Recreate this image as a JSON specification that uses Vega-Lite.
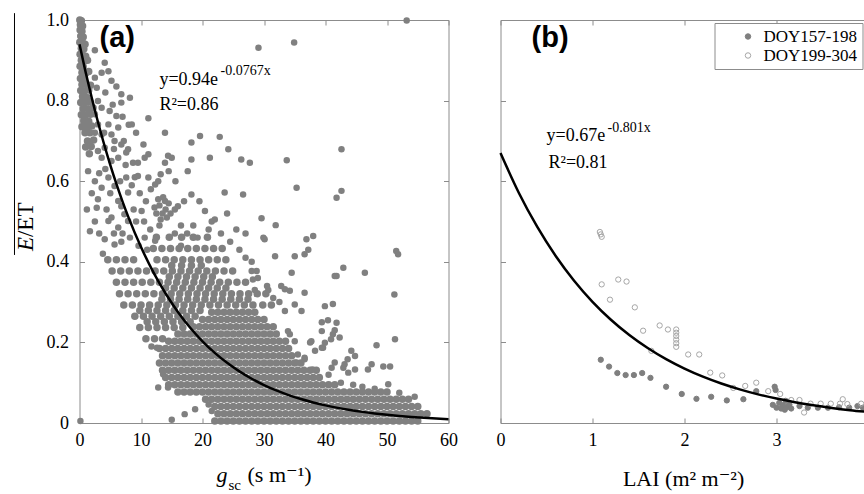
{
"$schema":"https://vega.github.io/schema/vega-lite/v6.json",
"padding":{"left":12.5,"top":10,"right":0,"bottom":0},
"bounds":"flush",
"spacing":52,
"config":{
"view":{"stroke":"#8c8c8c","strokeWidth":1},
"axis":{"domain":false,"grid":false,"tickSize":-5,"tickColor":"#8c8c8c","labelFont":"Liberation Serif, DejaVu Serif, serif","labelFontSize":18,"labelColor":"#000000","labelFlush":false,"labelOverlap":false},
"axisBottom":{"labelPadding":13},
"axisLeft":{"labelPadding":16},
"text":{"font":"Liberation Serif, DejaVu Serif, serif","color":"#000000"},
"legend":{"labelFont":"Liberation Serif, DejaVu Serif, serif","labelFontSize":17,"labelColor":"#000000","strokeColor":"#8c8c8c","fillColor":"#ffffff","padding":5,"symbolOffset":20,"labelOffset":7,"rowPadding":1,"symbolSize":30,"symbolStrokeWidth":1,"symbolType":"circle"}
},
"datasets":{
"one":[{}],
"a":[
{"x":2.5,"y":0.925},{"x":4.1,"y":0.894},{"x":4.7,"y":0.873},{"x":3.6,"y":0.869},{"x":2.5,"y":0.857},{"x":5.2,"y":0.849},{"x":6.0,"y":0.835},{"x":6.8,"y":0.816},{"x":8.2,"y":0.807},{"x":6.8,"y":0.795},{"x":11.2,"y":0.756},{"x":8.5,"y":0.741},{"x":6.0,"y":0.762},{"x":4.9,"y":0.774},{"x":6.3,"y":0.733},{"x":4.7,"y":0.741},{"x":2.8,"y":0.832},{"x":3.0,"y":0.799},{"x":3.6,"y":0.782},{"x":2.5,"y":0.766},{"x":3.0,"y":0.741},{"x":2.5,"y":0.72},{"x":3.6,"y":0.716},{"x":5.2,"y":0.716},{"x":5.7,"y":0.7},{"x":4.1,"y":0.683},{"x":3.0,"y":0.675},{"x":6.8,"y":0.691},{"x":7.9,"y":0.679},{"x":3.6,"y":0.658},{"x":5.2,"y":0.65},{"x":6.3,"y":0.658},{"x":7.6,"y":0.671},{"x":8.7,"y":0.646},{"x":9.5,"y":0.646},{"x":10.4,"y":0.691},{"x":13.9,"y":0.72},{"x":18.2,"y":0.696},{"x":19.6,"y":0.712},{"x":22.8,"y":0.71},{"x":24.2,"y":0.679},{"x":21.2,"y":0.658},{"x":18.2,"y":0.654},{"x":14.4,"y":0.663},{"x":13.9,"y":0.646},{"x":15.0,"y":0.658},{"x":11.2,"y":0.667},{"x":10.6,"y":0.658},{"x":26.3,"y":0.654},{"x":27.7,"y":0.646},{"x":33.7,"y":0.652},{"x":42.6,"y":0.679},{"x":29.1,"y":0.931},{"x":34.9,"y":0.944},{"x":53.2,"y":0.999},{"x":11.2,"y":0.609},{"x":9.5,"y":0.613},{"x":14.5,"y":0.625},{"x":13.2,"y":0.617},{"x":17.6,"y":0.625},{"x":1.4,"y":0.625},{"x":2.5,"y":0.6},{"x":4.7,"y":0.609},{"x":3.6,"y":0.584},{"x":5.7,"y":0.588},{"x":7.6,"y":0.609},{"x":7.9,"y":0.572},{"x":12.3,"y":0.592},{"x":18.2,"y":0.567},{"x":23.6,"y":0.572},{"x":26.6,"y":0.567},{"x":35.3,"y":0.584},{"x":41.8,"y":0.559},{"x":42.6,"y":0.576},{"x":20.4,"y":0.526},{"x":22.0,"y":0.505},{"x":15.5,"y":0.53},{"x":16.0,"y":0.538},{"x":13.9,"y":0.551},{"x":10.1,"y":0.526},{"x":6.8,"y":0.538},{"x":2.8,"y":0.534},{"x":3.0,"y":0.555},{"x":6.3,"y":0.551},{"x":5.2,"y":0.51},{"x":4.7,"y":0.501},{"x":6.3,"y":0.485},{"x":7.9,"y":0.501},{"x":7.3,"y":0.518},{"x":1.7,"y":0.476},{"x":4.1,"y":0.456},{"x":5.7,"y":0.443},{"x":10.6,"y":0.46},{"x":12.3,"y":0.452},{"x":29.6,"y":0.508},{"x":29.9,"y":0.46},{"x":31.9,"y":0.491},{"x":36.9,"y":0.456},{"x":38.0,"y":0.464},{"x":51.5,"y":0.427},
{"x":3.2,"y":0.62},{"x":4.2,"y":0.63},{"x":5.0,"y":0.57},{"x":6.6,"y":0.6},{"x":8.5,"y":0.59},{"x":9.8,"y":0.57},{"x":10.8,"y":0.55},{"x":11.6,"y":0.58},{"x":8.8,"y":0.53},{"x":9.2,"y":0.5},{"x":10.5,"y":0.5},{"x":11.5,"y":0.48},{"x":8.2,"y":0.46},{"x":6.8,"y":0.45},{"x":3.2,"y":0.47},{"x":2.5,"y":0.5},{"x":4.4,"y":0.53},{"x":5.6,"y":0.47},{"x":7.0,"y":0.47},{"x":9.6,"y":0.44},{"x":11.0,"y":0.43},{"x":4.0,"y":0.72},{"x":5.6,"y":0.68},{"x":7.2,"y":0.7},{"x":8.0,"y":0.74},{"x":9.2,"y":0.72},{"x":7.0,"y":0.76},{"x":5.4,"y":0.79},{"x":4.2,"y":0.82},{"x":7.5,"y":0.64},{"x":9.0,"y":0.61},{"x":12.8,"y":0.6},{"x":15.6,"y":0.6},{"x":17.0,"y":0.55},{"x":19.5,"y":0.55},{"x":21.5,"y":0.5},{"x":24.0,"y":0.52},{"x":25.5,"y":0.48},{"x":27.0,"y":0.47},{"x":16.5,"y":0.44},{"x":2.0,"y":0.57},{"x":1.2,"y":0.53},{"x":3.8,"y":0.42},
{"x":12.5,"y":0.52},{"x":13.0,"y":0.54},{"x":13.5,"y":0.52},{"x":14.0,"y":0.53},{"x":13.2,"y":0.505},{"x":14.2,"y":0.51},{"x":12.8,"y":0.555},{"x":13.6,"y":0.56},{"x":14.5,"y":0.545},{"x":12.2,"y":0.535},{"x":13.0,"y":0.49},{"x":14.8,"y":0.52},
{"x":15.5,"y":0.47},{"x":16.5,"y":0.49},{"x":17.5,"y":0.47},{"x":18.5,"y":0.49},{"x":19.2,"y":0.46},{"x":21.0,"y":0.48},{"x":23.0,"y":0.47},{"x":24.5,"y":0.45},{"x":26.0,"y":0.43},{"x":27.0,"y":0.41},{"x":28.0,"y":0.4},{"x":29.0,"y":0.36},{"x":30.5,"y":0.34},{"x":31.5,"y":0.31},{"x":32.5,"y":0.3},
{"x":0.15,"y":0.005},{"x":15.0,"y":0.008},{"x":17.1,"y":0.022},{"x":18.8,"y":0.034},{"x":21.5,"y":0.03},{"x":21.0,"y":0.046},{"x":12.8,"y":0.088},{"x":14.4,"y":0.088},{"x":13.6,"y":0.121},{"x":12.6,"y":0.187},{"x":11.7,"y":0.19},
{"x":30.1,"y":0.456},{"x":31.8,"y":0.414},{"x":35.0,"y":0.414},{"x":37.2,"y":0.43},{"x":36.6,"y":0.419},{"x":34.5,"y":0.373},{"x":28.0,"y":0.377},{"x":28.8,"y":0.377},{"x":28.2,"y":0.356},{"x":28.5,"y":0.33},{"x":30.7,"y":0.33},{"x":32.8,"y":0.34},{"x":34.2,"y":0.328},{"x":36.6,"y":0.323},{"x":33.4,"y":0.332},{"x":35.0,"y":0.294},{"x":36.1,"y":0.278},{"x":33.4,"y":0.278},{"x":33.9,"y":0.228},{"x":35.0,"y":0.203},{"x":34.2,"y":0.22},{"x":37.5,"y":0.2},{"x":36.6,"y":0.162},{"x":38.3,"y":0.179},{"x":39.4,"y":0.187},{"x":39.9,"y":0.199},{"x":40.9,"y":0.208},{"x":41.2,"y":0.22},{"x":41.5,"y":0.23},{"x":39.4,"y":0.25},{"x":40.4,"y":0.255},{"x":41.8,"y":0.249},{"x":39.9,"y":0.29},{"x":41.2,"y":0.295},{"x":41.8,"y":0.365},{"x":42.9,"y":0.385},{"x":46.4,"y":0.373},{"x":51.8,"y":0.419},{"x":51.2,"y":0.319},{"x":51.3,"y":0.208},{"x":48.3,"y":0.193},{"x":44.2,"y":0.179},{"x":44.8,"y":0.166},{"x":41.5,"y":0.15},{"x":42.9,"y":0.137},{"x":41.0,"y":0.137},{"x":43.7,"y":0.125},{"x":46.9,"y":0.133},{"x":47.5,"y":0.146},{"x":49.4,"y":0.14},{"x":50.5,"y":0.14},{"x":50.2,"y":0.096},{"x":37.9,"y":0.133},{"x":35.3,"y":0.15},{"x":42.3,"y":0.212},{"x":37.7,"y":0.203},{"x":39.6,"y":0.187},{"x":43.1,"y":0.146},{"x":43.6,"y":0.158},{"x":44.8,"y":0.133},{"x":39.4,"y":0.228},{"x":41.5,"y":0.365},{"x":36.6,"y":0.158},{"x":35.5,"y":0.17},{"x":44.5,"y":0.095},{"x":46,"y":0.09},{"x":48,"y":0.085},{"x":52,"y":0.075},{"x":54.5,"y":0.065},{"x":40.5,"y":0.12},{"x":42.5,"y":0.1}
],
"aCore":[
{"x":0.05,"y":1.0},{"x":0.3,"y":0.998},{"x":0.15,"y":0.988},{"x":0.5,"y":0.985},{"x":0.1,"y":0.975},{"x":0.4,"y":0.972},{"x":0.2,"y":0.96},{"x":0.6,"y":0.958},{"x":0.05,"y":0.945},{"x":0.45,"y":0.945},{"x":0.9,"y":0.94},{"x":0.3,"y":0.93},{"x":0.7,"y":0.928},{"x":0.1,"y":0.915},{"x":0.5,"y":0.913},{"x":1.0,"y":0.91},{"x":0.3,"y":0.9},{"x":0.8,"y":0.898},{"x":1.3,"y":0.9},{"x":0.1,"y":0.885},{"x":0.6,"y":0.884},{"x":0.4,"y":0.87},{"x":1.0,"y":0.868},{"x":1.5,"y":0.872},{"x":0.15,"y":0.855},{"x":0.7,"y":0.853},{"x":0.4,"y":0.84},{"x":1.1,"y":0.84},{"x":1.8,"y":0.838},{"x":0.2,"y":0.825},{"x":0.8,"y":0.824},{"x":1.5,"y":0.826},{"x":0.5,"y":0.81},{"x":1.2,"y":0.808},{"x":0.2,"y":0.795},{"x":0.9,"y":0.795},{"x":1.7,"y":0.797},{"x":0.6,"y":0.78},{"x":1.4,"y":0.78},{"x":2.2,"y":0.782},{"x":0.3,"y":0.765},{"x":1.0,"y":0.764},{"x":1.8,"y":0.766},{"x":0.7,"y":0.75},{"x":1.5,"y":0.749},{"x":0.4,"y":0.735},{"x":1.2,"y":0.734},{"x":2.0,"y":0.737},{"x":0.9,"y":0.72},{"x":1.7,"y":0.72},{"x":1.3,"y":0.7},{"x":2.3,"y":0.702},{"x":1.0,"y":0.685},{"x":1.9,"y":0.686},{"x":1.6,"y":0.668},
{"x":10.8,"y":0.209},{"x":12.2,"y":0.209},{"x":13.5,"y":0.209},
{"x":9.8,"y":0.237},{"x":11.2,"y":0.237},{"x":12.6,"y":0.237},{"x":14.0,"y":0.237},{"x":15.4,"y":0.237},{"x":16.8,"y":0.237},
{"x":11.0,"y":0.251},{"x":12.4,"y":0.251},{"x":13.8,"y":0.251},{"x":15.2,"y":0.251},{"x":16.6,"y":0.251},{"x":18.0,"y":0.251},
{"x":9.0,"y":0.265},{"x":10.4,"y":0.265},{"x":11.8,"y":0.265},{"x":13.2,"y":0.265},{"x":14.6,"y":0.265},{"x":16.0,"y":0.265},{"x":17.4,"y":0.265},{"x":18.8,"y":0.265},
{"x":9.8,"y":0.279},{"x":11.2,"y":0.279},{"x":12.6,"y":0.279},{"x":14.0,"y":0.279},{"x":15.4,"y":0.279},{"x":16.8,"y":0.279},{"x":18.2,"y":0.279},{"x":19.6,"y":0.279},
{"x":7.2,"y":0.293},{"x":8.6,"y":0.293},{"x":10.0,"y":0.293},{"x":11.4,"y":0.293},{"x":12.8,"y":0.293},{"x":14.2,"y":0.293},{"x":15.6,"y":0.293},{"x":17.0,"y":0.293},{"x":18.4,"y":0.293},{"x":19.8,"y":0.293},{"x":21.2,"y":0.293},{"x":22.6,"y":0.293},{"x":24.0,"y":0.293},{"x":25.4,"y":0.293},{"x":26.8,"y":0.293},{"x":28.2,"y":0.293},{"x":29.8,"y":0.293},{"x":31.2,"y":0.293},
{"x":13.4,"y":0.307},{"x":14.8,"y":0.307},{"x":16.2,"y":0.307},{"x":17.6,"y":0.307},{"x":19.0,"y":0.307},{"x":20.4,"y":0.307},{"x":21.8,"y":0.307},{"x":23.2,"y":0.307},{"x":24.6,"y":0.307},{"x":26.0,"y":0.307},{"x":27.4,"y":0.307},
{"x":6.5,"y":0.321},{"x":7.9,"y":0.321},{"x":9.3,"y":0.321},{"x":10.7,"y":0.321},{"x":12.1,"y":0.321},{"x":13.5,"y":0.321},{"x":14.9,"y":0.321},{"x":16.3,"y":0.321},{"x":17.7,"y":0.321},{"x":19.1,"y":0.321},{"x":20.5,"y":0.321},{"x":21.9,"y":0.321},{"x":23.3,"y":0.321},{"x":24.7,"y":0.321},{"x":26.1,"y":0.321},{"x":27.5,"y":0.321},{"x":28.9,"y":0.321},{"x":30.3,"y":0.321},
{"x":14.0,"y":0.335},{"x":15.4,"y":0.335},{"x":16.8,"y":0.335},{"x":18.2,"y":0.335},{"x":19.6,"y":0.335},{"x":21.0,"y":0.335},{"x":22.4,"y":0.335},{"x":23.8,"y":0.335},
{"x":6.0,"y":0.349},{"x":7.4,"y":0.349},{"x":8.8,"y":0.349},{"x":10.2,"y":0.349},{"x":11.6,"y":0.349},{"x":13.0,"y":0.349},{"x":14.4,"y":0.349},{"x":15.8,"y":0.349},{"x":17.2,"y":0.349},{"x":18.6,"y":0.349},{"x":20.0,"y":0.349},{"x":21.4,"y":0.349},{"x":22.8,"y":0.349},{"x":24.2,"y":0.349},{"x":25.6,"y":0.349},{"x":27.0,"y":0.349},
{"x":14.6,"y":0.363},{"x":16.0,"y":0.363},{"x":17.4,"y":0.363},{"x":18.8,"y":0.363},{"x":20.2,"y":0.363},{"x":21.6,"y":0.363},
{"x":5.3,"y":0.377},{"x":6.7,"y":0.377},{"x":8.1,"y":0.377},{"x":9.5,"y":0.377},{"x":10.9,"y":0.377},{"x":12.3,"y":0.377},{"x":13.7,"y":0.377},{"x":15.1,"y":0.377},{"x":16.5,"y":0.377},{"x":17.9,"y":0.377},{"x":19.3,"y":0.377},{"x":20.7,"y":0.377},{"x":22.1,"y":0.377},{"x":23.5,"y":0.377},{"x":24.9,"y":0.377},
{"x":15.0,"y":0.391},{"x":16.6,"y":0.391},{"x":18.2,"y":0.391},{"x":19.8,"y":0.391},
{"x":4.6,"y":0.405},{"x":6.0,"y":0.405},{"x":7.4,"y":0.405},{"x":8.8,"y":0.405},{"x":12.6,"y":0.405},{"x":14.0,"y":0.405},{"x":15.4,"y":0.405},{"x":16.8,"y":0.405},{"x":18.2,"y":0.405},{"x":19.6,"y":0.405},{"x":21.0,"y":0.405},{"x":22.4,"y":0.405},{"x":23.8,"y":0.405},
{"x":12.0,"y":0.433},{"x":13.4,"y":0.433},{"x":14.8,"y":0.433},{"x":16.2,"y":0.433},{"x":17.6,"y":0.433},{"x":19.0,"y":0.433},{"x":20.4,"y":0.433},{"x":21.8,"y":0.433},{"x":23.2,"y":0.433},
{"x":12.5,"y":0.461},{"x":14.6,"y":0.461},{"x":16.6,"y":0.461},{"x":18.5,"y":0.461},{"x":20.8,"y":0.461},
{"x":22,"y":0.005},{"x":23,"y":0.005},{"x":24,"y":0.005},{"x":25,"y":0.005},{"x":26,"y":0.005},{"x":27,"y":0.005},{"x":28,"y":0.005},{"x":29,"y":0.005},{"x":30,"y":0.005},{"x":31,"y":0.005},{"x":32,"y":0.005},{"x":33,"y":0.005},{"x":34,"y":0.005},{"x":35,"y":0.005},{"x":36,"y":0.005},{"x":37,"y":0.005},{"x":38,"y":0.005},{"x":39,"y":0.005},{"x":40,"y":0.005},{"x":41,"y":0.005},{"x":42,"y":0.005},{"x":43,"y":0.005},{"x":44,"y":0.005},{"x":45,"y":0.005},{"x":46,"y":0.005},{"x":47,"y":0.005},{"x":48,"y":0.005},{"x":49,"y":0.005},{"x":50,"y":0.005},{"x":51,"y":0.005},{"x":52,"y":0.005},{"x":53,"y":0.005},{"x":54,"y":0.005},{"x":55,"y":0.005},
{"x":22.5,"y":0.023},{"x":23.5,"y":0.023},{"x":24.5,"y":0.023},{"x":25.5,"y":0.023},{"x":26.5,"y":0.023},{"x":27.5,"y":0.023},{"x":28.5,"y":0.023},{"x":29.5,"y":0.023},{"x":30.5,"y":0.023},{"x":31.5,"y":0.023},{"x":32.5,"y":0.023},{"x":33.5,"y":0.023},{"x":34.5,"y":0.023},{"x":35.5,"y":0.023},{"x":36.5,"y":0.023},{"x":37.5,"y":0.023},{"x":38.5,"y":0.023},{"x":39.5,"y":0.023},{"x":40.5,"y":0.023},{"x":41.5,"y":0.023},{"x":42.5,"y":0.023},{"x":43.5,"y":0.023},{"x":44.5,"y":0.023},{"x":45.5,"y":0.023},{"x":46.5,"y":0.023},{"x":47.5,"y":0.023},{"x":48.5,"y":0.023},{"x":49.5,"y":0.023},{"x":50.5,"y":0.023},{"x":51.5,"y":0.023},{"x":52.5,"y":0.023},{"x":53.5,"y":0.023},{"x":54.5,"y":0.023},{"x":55.5,"y":0.023},{"x":56.5,"y":0.023},
{"x":22,"y":0.041},{"x":23,"y":0.041},{"x":24,"y":0.041},{"x":25,"y":0.041},{"x":26,"y":0.041},{"x":27,"y":0.041},{"x":28,"y":0.041},{"x":29,"y":0.041},{"x":30,"y":0.041},{"x":31,"y":0.041},{"x":32,"y":0.041},{"x":33,"y":0.041},{"x":34,"y":0.041},{"x":35,"y":0.041},{"x":36,"y":0.041},{"x":37,"y":0.041},{"x":38,"y":0.041},{"x":39,"y":0.041},{"x":40,"y":0.041},{"x":41,"y":0.041},{"x":42,"y":0.041},{"x":43,"y":0.041},{"x":44,"y":0.041},{"x":45,"y":0.041},{"x":46,"y":0.041},{"x":47,"y":0.041},{"x":48,"y":0.041},{"x":49,"y":0.041},{"x":50,"y":0.041},{"x":51,"y":0.041},{"x":52,"y":0.041},{"x":53,"y":0.041},{"x":54,"y":0.041},{"x":55,"y":0.041},
{"x":20.5,"y":0.059},{"x":21.5,"y":0.059},{"x":22.5,"y":0.059},{"x":23.5,"y":0.059},{"x":24.5,"y":0.059},{"x":25.5,"y":0.059},{"x":26.5,"y":0.059},{"x":27.5,"y":0.059},{"x":28.5,"y":0.059},{"x":29.5,"y":0.059},{"x":30.5,"y":0.059},{"x":31.5,"y":0.059},{"x":32.5,"y":0.059},{"x":33.5,"y":0.059},{"x":34.5,"y":0.059},{"x":35.5,"y":0.059},{"x":36.5,"y":0.059},{"x":37.5,"y":0.059},{"x":38.5,"y":0.059},{"x":39.5,"y":0.059},{"x":40.5,"y":0.059},{"x":41.5,"y":0.059},{"x":42.5,"y":0.059},{"x":43.5,"y":0.059},{"x":44.5,"y":0.059},{"x":45.5,"y":0.059},{"x":46.5,"y":0.059},{"x":47.5,"y":0.059},{"x":48.5,"y":0.059},{"x":49.5,"y":0.059},{"x":50.5,"y":0.059},{"x":51.5,"y":0.059},{"x":52.5,"y":0.059},{"x":53.5,"y":0.059},
{"x":16,"y":0.077},{"x":17,"y":0.077},{"x":18,"y":0.077},{"x":19,"y":0.077},{"x":20,"y":0.077},{"x":21,"y":0.077},{"x":22,"y":0.077},{"x":23,"y":0.077},{"x":24,"y":0.077},{"x":25,"y":0.077},{"x":26,"y":0.077},{"x":27,"y":0.077},{"x":28,"y":0.077},{"x":29,"y":0.077},{"x":30,"y":0.077},{"x":31,"y":0.077},{"x":32,"y":0.077},{"x":33,"y":0.077},{"x":34,"y":0.077},{"x":35,"y":0.077},{"x":36,"y":0.077},{"x":37,"y":0.077},{"x":38,"y":0.077},{"x":39,"y":0.077},{"x":40,"y":0.077},{"x":41,"y":0.077},{"x":42,"y":0.077},{"x":43,"y":0.077},{"x":44,"y":0.077},{"x":45,"y":0.077},{"x":46,"y":0.077},{"x":47,"y":0.077},{"x":48,"y":0.077},{"x":49,"y":0.077},{"x":50,"y":0.077},
{"x":14.5,"y":0.095},{"x":15.5,"y":0.095},{"x":16.5,"y":0.095},{"x":17.5,"y":0.095},{"x":18.5,"y":0.095},{"x":19.5,"y":0.095},{"x":20.5,"y":0.095},{"x":21.5,"y":0.095},{"x":22.5,"y":0.095},{"x":23.5,"y":0.095},{"x":24.5,"y":0.095},{"x":25.5,"y":0.095},{"x":26.5,"y":0.095},{"x":27.5,"y":0.095},{"x":28.5,"y":0.095},{"x":29.5,"y":0.095},{"x":30.5,"y":0.095},{"x":31.5,"y":0.095},{"x":32.5,"y":0.095},{"x":33.5,"y":0.095},{"x":34.5,"y":0.095},{"x":35.5,"y":0.095},{"x":36.5,"y":0.095},{"x":37.5,"y":0.095},{"x":38.5,"y":0.095},{"x":39.5,"y":0.095},{"x":40.5,"y":0.095},{"x":41.5,"y":0.095},
{"x":14,"y":0.113},{"x":15,"y":0.113},{"x":16,"y":0.113},{"x":17,"y":0.113},{"x":18,"y":0.113},{"x":19,"y":0.113},{"x":20,"y":0.113},{"x":21,"y":0.113},{"x":22,"y":0.113},{"x":23,"y":0.113},{"x":24,"y":0.113},{"x":25,"y":0.113},{"x":26,"y":0.113},{"x":27,"y":0.113},{"x":28,"y":0.113},{"x":29,"y":0.113},{"x":30,"y":0.113},{"x":31,"y":0.113},{"x":32,"y":0.113},{"x":33,"y":0.113},{"x":34,"y":0.113},{"x":35,"y":0.113},{"x":36,"y":0.113},{"x":37,"y":0.113},{"x":38,"y":0.113},{"x":39,"y":0.113},
{"x":13.5,"y":0.131},{"x":14.5,"y":0.131},{"x":15.5,"y":0.131},{"x":16.5,"y":0.131},{"x":17.5,"y":0.131},{"x":18.5,"y":0.131},{"x":19.5,"y":0.131},{"x":20.5,"y":0.131},{"x":21.5,"y":0.131},{"x":22.5,"y":0.131},{"x":23.5,"y":0.131},{"x":24.5,"y":0.131},{"x":25.5,"y":0.131},{"x":26.5,"y":0.131},{"x":27.5,"y":0.131},{"x":28.5,"y":0.131},{"x":29.5,"y":0.131},{"x":30.5,"y":0.131},{"x":31.5,"y":0.131},{"x":32.5,"y":0.131},{"x":33.5,"y":0.131},{"x":34.5,"y":0.131},{"x":35.5,"y":0.131},{"x":36.5,"y":0.131},{"x":37.5,"y":0.131},{"x":38.5,"y":0.131},
{"x":13,"y":0.149},{"x":14,"y":0.149},{"x":15,"y":0.149},{"x":16,"y":0.149},{"x":17,"y":0.149},{"x":18,"y":0.149},{"x":19,"y":0.149},{"x":20,"y":0.149},{"x":21,"y":0.149},{"x":22,"y":0.149},{"x":23,"y":0.149},{"x":24,"y":0.149},{"x":25,"y":0.149},{"x":26,"y":0.149},{"x":27,"y":0.149},{"x":28,"y":0.149},{"x":29,"y":0.149},{"x":30,"y":0.149},{"x":31,"y":0.149},{"x":32,"y":0.149},{"x":33,"y":0.149},{"x":34,"y":0.149},{"x":35,"y":0.149},{"x":36,"y":0.149},
{"x":13.5,"y":0.167},{"x":14.5,"y":0.167},{"x":15.5,"y":0.167},{"x":16.5,"y":0.167},{"x":17.5,"y":0.167},{"x":18.5,"y":0.167},{"x":19.5,"y":0.167},{"x":20.5,"y":0.167},{"x":21.5,"y":0.167},{"x":22.5,"y":0.167},{"x":23.5,"y":0.167},{"x":24.5,"y":0.167},{"x":25.5,"y":0.167},{"x":26.5,"y":0.167},{"x":27.5,"y":0.167},{"x":28.5,"y":0.167},{"x":29.5,"y":0.167},{"x":30.5,"y":0.167},{"x":31.5,"y":0.167},{"x":32.5,"y":0.167},{"x":33.5,"y":0.167},{"x":34.5,"y":0.167},
{"x":13,"y":0.185},{"x":14,"y":0.185},{"x":15,"y":0.185},{"x":16,"y":0.185},{"x":17,"y":0.185},{"x":18,"y":0.185},{"x":19,"y":0.185},{"x":20,"y":0.185},{"x":21,"y":0.185},{"x":22,"y":0.185},{"x":23,"y":0.185},{"x":24,"y":0.185},{"x":25,"y":0.185},{"x":26,"y":0.185},{"x":27,"y":0.185},{"x":28,"y":0.185},{"x":29,"y":0.185},{"x":30,"y":0.185},{"x":31,"y":0.185},{"x":32,"y":0.185},{"x":33,"y":0.185},{"x":34,"y":0.185},
{"x":14.5,"y":0.203},{"x":15.5,"y":0.203},{"x":16.5,"y":0.203},{"x":17.5,"y":0.203},{"x":18.5,"y":0.203},{"x":19.5,"y":0.203},{"x":20.5,"y":0.203},{"x":21.5,"y":0.203},{"x":22.5,"y":0.203},{"x":23.5,"y":0.203},{"x":24.5,"y":0.203},{"x":25.5,"y":0.203},{"x":26.5,"y":0.203},{"x":27.5,"y":0.203},{"x":28.5,"y":0.203},{"x":29.5,"y":0.203},{"x":30.5,"y":0.203},{"x":31.5,"y":0.203},{"x":32.5,"y":0.203},{"x":33.5,"y":0.203},
{"x":16,"y":0.221},{"x":17,"y":0.221},{"x":18,"y":0.221},{"x":19,"y":0.221},{"x":20,"y":0.221},{"x":21,"y":0.221},{"x":22,"y":0.221},{"x":23,"y":0.221},{"x":24,"y":0.221},{"x":25,"y":0.221},{"x":26,"y":0.221},{"x":27,"y":0.221},{"x":28,"y":0.221},{"x":29,"y":0.221},{"x":30,"y":0.221},{"x":31,"y":0.221},{"x":32,"y":0.221},
{"x":18.5,"y":0.239},{"x":19.5,"y":0.239},{"x":20.5,"y":0.239},{"x":21.5,"y":0.239},{"x":22.5,"y":0.239},{"x":23.5,"y":0.239},{"x":24.5,"y":0.239},{"x":25.5,"y":0.239},{"x":26.5,"y":0.239},{"x":27.5,"y":0.239},{"x":28.5,"y":0.239},{"x":29.5,"y":0.239},{"x":30.5,"y":0.239},{"x":31.5,"y":0.239},
{"x":20,"y":0.257},{"x":21,"y":0.257},{"x":22,"y":0.257},{"x":23,"y":0.257},{"x":24,"y":0.257},{"x":25,"y":0.257},{"x":26,"y":0.257},{"x":27,"y":0.257},{"x":28,"y":0.257},{"x":29,"y":0.257},{"x":30,"y":0.257},
{"x":21.5,"y":0.275},{"x":22.5,"y":0.275},{"x":23.5,"y":0.275},{"x":24.5,"y":0.275},{"x":25.5,"y":0.275},{"x":26.5,"y":0.275},{"x":27.5,"y":0.275},{"x":28.5,"y":0.275}
],
"aFit":[{"x":0,"y":0.94},{"x":1,"y":0.8706},{"x":2,"y":0.8063},{"x":3,"y":0.7468},{"x":4,"y":0.6917},{"x":5,"y":0.6406},{"x":6,"y":0.5933},{"x":7,"y":0.5495},{"x":8,"y":0.509},{"x":10,"y":0.4366},{"x":12,"y":0.3745},{"x":14,"y":0.3213},{"x":16,"y":0.2756},{"x":18,"y":0.2364},{"x":20,"y":0.2028},{"x":22,"y":0.1739},{"x":24,"y":0.1492},{"x":26,"y":0.128},{"x":28,"y":0.1098},{"x":30,"y":0.0942},{"x":32,"y":0.0808},{"x":34,"y":0.0693},{"x":36,"y":0.0594},{"x":38,"y":0.051},{"x":40,"y":0.0437},{"x":42,"y":0.0375},{"x":44,"y":0.0322},{"x":46,"y":0.0276},{"x":48,"y":0.0237},{"x":50,"y":0.0203},{"x":52,"y":0.0174},{"x":54,"y":0.0149},{"x":56,"y":0.0128},{"x":58,"y":0.011},{"x":60,"y":0.0094}],
"b":[
{"lai":1.09,"ratio":0.157,"period":"DOY157-198"},{"lai":1.18,"ratio":0.14,"period":"DOY157-198"},{"lai":1.27,"ratio":0.124,"period":"DOY157-198"},{"lai":1.36,"ratio":0.119,"period":"DOY157-198"},{"lai":1.45,"ratio":0.119,"period":"DOY157-198"},{"lai":1.54,"ratio":0.124,"period":"DOY157-198"},{"lai":1.63,"ratio":0.112,"period":"DOY157-198"},{"lai":1.8,"ratio":0.09,"period":"DOY157-198"},{"lai":1.97,"ratio":0.072,"period":"DOY157-198"},{"lai":2.13,"ratio":0.06,"period":"DOY157-198"},{"lai":2.29,"ratio":0.065,"period":"DOY157-198"},{"lai":2.46,"ratio":0.056,"period":"DOY157-198"},{"lai":2.64,"ratio":0.059,"period":"DOY157-198"},{"lai":2.78,"ratio":0.079,"period":"DOY157-198"},{"lai":2.98,"ratio":0.09,"period":"DOY157-198"},{"lai":2.99,"ratio":0.082,"period":"DOY157-198"},{"lai":2.96,"ratio":0.045,"period":"DOY157-198"},{"lai":3.0,"ratio":0.038,"period":"DOY157-198"},{"lai":3.03,"ratio":0.05,"period":"DOY157-198"},{"lai":3.05,"ratio":0.036,"period":"DOY157-198"},{"lai":3.07,"ratio":0.044,"period":"DOY157-198"},{"lai":3.09,"ratio":0.033,"period":"DOY157-198"},{"lai":3.1,"ratio":0.055,"period":"DOY157-198"},{"lai":3.12,"ratio":0.04,"period":"DOY157-198"},{"lai":3.14,"ratio":0.046,"period":"DOY157-198"},{"lai":3.16,"ratio":0.036,"period":"DOY157-198"},{"lai":3.25,"ratio":0.042,"period":"DOY157-198"},{"lai":3.34,"ratio":0.038,"period":"DOY157-198"},{"lai":3.45,"ratio":0.038,"period":"DOY157-198"},{"lai":3.56,"ratio":0.038,"period":"DOY157-198"},{"lai":3.68,"ratio":0.039,"period":"DOY157-198"},{"lai":3.79,"ratio":0.038,"period":"DOY157-198"},{"lai":3.88,"ratio":0.042,"period":"DOY157-198"},{"lai":3.94,"ratio":0.038,"period":"DOY157-198"},
{"lai":1.08,"ratio":0.474,"period":"DOY199-304"},{"lai":1.1,"ratio":0.462,"period":"DOY199-304"},{"lai":1.09,"ratio":0.468,"period":"DOY199-304"},{"lai":1.1,"ratio":0.344,"period":"DOY199-304"},{"lai":1.28,"ratio":0.356,"period":"DOY199-304"},{"lai":1.37,"ratio":0.351,"period":"DOY199-304"},{"lai":1.19,"ratio":0.306,"period":"DOY199-304"},{"lai":1.46,"ratio":0.287,"period":"DOY199-304"},{"lai":1.55,"ratio":0.229,"period":"DOY199-304"},{"lai":1.73,"ratio":0.242,"period":"DOY199-304"},{"lai":1.82,"ratio":0.232,"period":"DOY199-304"},{"lai":1.91,"ratio":0.232,"period":"DOY199-304"},{"lai":1.91,"ratio":0.224,"period":"DOY199-304"},{"lai":1.91,"ratio":0.216,"period":"DOY199-304"},{"lai":1.91,"ratio":0.207,"period":"DOY199-304"},{"lai":1.91,"ratio":0.198,"period":"DOY199-304"},{"lai":1.91,"ratio":0.189,"period":"DOY199-304"},{"lai":1.64,"ratio":0.179,"period":"DOY199-304"},{"lai":2.04,"ratio":0.17,"period":"DOY199-304"},{"lai":2.16,"ratio":0.17,"period":"DOY199-304"},{"lai":2.28,"ratio":0.125,"period":"DOY199-304"},{"lai":2.41,"ratio":0.118,"period":"DOY199-304"},{"lai":2.53,"ratio":0.087,"period":"DOY199-304"},{"lai":2.66,"ratio":0.092,"period":"DOY199-304"},{"lai":2.78,"ratio":0.1,"period":"DOY199-304"},{"lai":2.91,"ratio":0.079,"period":"DOY199-304"},{"lai":3.04,"ratio":0.072,"period":"DOY199-304"},{"lai":3.16,"ratio":0.057,"period":"DOY199-304"},{"lai":3.25,"ratio":0.057,"period":"DOY199-304"},{"lai":3.3,"ratio":0.026,"period":"DOY199-304"},{"lai":3.37,"ratio":0.048,"period":"DOY199-304"},{"lai":3.48,"ratio":0.048,"period":"DOY199-304"},{"lai":3.59,"ratio":0.048,"period":"DOY199-304"},{"lai":3.69,"ratio":0.048,"period":"DOY199-304"},{"lai":3.72,"ratio":0.059,"period":"DOY199-304"},{"lai":3.77,"ratio":0.047,"period":"DOY199-304"},{"lai":3.92,"ratio":0.048,"period":"DOY199-304"}
],
"bFit":[{"lai":0,"ratio":0.67},{"lai":0.2,"ratio":0.5708},{"lai":0.4,"ratio":0.4864},{"lai":0.6,"ratio":0.4144},{"lai":0.8,"ratio":0.3531},{"lai":1.0,"ratio":0.3008},{"lai":1.2,"ratio":0.2563},{"lai":1.4,"ratio":0.2184},{"lai":1.6,"ratio":0.1861},{"lai":1.8,"ratio":0.1585},{"lai":2.0,"ratio":0.135},{"lai":2.2,"ratio":0.115},{"lai":2.4,"ratio":0.098},{"lai":2.6,"ratio":0.0835},{"lai":2.8,"ratio":0.0711},{"lai":3.0,"ratio":0.0606},{"lai":3.2,"ratio":0.0516},{"lai":3.4,"ratio":0.044},{"lai":3.6,"ratio":0.0375},{"lai":3.8,"ratio":0.0319},{"lai":4.0,"ratio":0.0272}]
},
"hconcat":[
{
"width":369,"height":403,
"resolve":{"axis":{"x":"independent","y":"independent"}},
"layer":[
{"data":{"name":"aCore"},"mark":{"type":"circle","size":56,"color":"#808080","opacity":1},
"encoding":{
"x":{"field":"x","type":"quantitative","scale":{"domain":[0,60],"nice":false,"zero":false},"axis":{"orient":"bottom","values":[0,10,20,30,40,50,60],"title":null}},
"y":{"field":"y","type":"quantitative","scale":{"domain":[0,1],"nice":false},"axis":{"orient":"left","values":[0,0.2,0.4,0.6,0.8,1],"labelExpr":"datum.value == 0 ? '0' : format(datum.value, '.1f')","title":null}}}},
{"data":{"name":"a"},"mark":{"type":"circle","size":42,"color":"#808080","opacity":1},
"encoding":{
"x":{"field":"x","type":"quantitative","axis":null},
"y":{"field":"y","type":"quantitative","axis":null}}},
{"data":{"name":"aFit"},"mark":{"type":"line","color":"#000000","strokeWidth":2.5,"interpolate":"monotone"},
"encoding":{
"x":{"field":"x","type":"quantitative","axis":{"orient":"top","values":[0,10,20,30,40,50,60],"labels":false,"title":null}},
"y":{"field":"y","type":"quantitative","axis":{"orient":"right","values":[0,0.2,0.4,0.6,0.8,1],"labels":false,"title":null}}}},
{"data":{"name":"one"},"mark":{"type":"text","font":"Liberation Sans, Arial, sans-serif","fontWeight":"bold","fontSize":29,"align":"left","baseline":"alphabetic"},
"encoding":{"x":{"datum":3.25,"type":"quantitative","axis":null},"y":{"datum":0.933,"type":"quantitative","axis":null},"text":{"value":"(a)"}}},
{"data":{"name":"one"},"mark":{"type":"text","fontSize":18,"align":"left","baseline":"alphabetic"},
"encoding":{"x":{"datum":13.0,"type":"quantitative","axis":null},"y":{"datum":0.839,"type":"quantitative","axis":null},"text":{"value":"y=0.94e"}}},
{"data":{"name":"one"},"mark":{"type":"text","fontSize":14,"align":"left","baseline":"alphabetic"},
"encoding":{"x":{"datum":22.93,"type":"quantitative","axis":null},"y":{"datum":0.8635,"type":"quantitative","axis":null},"text":{"value":"-0.0767x"}}},
{"data":{"name":"one"},"mark":{"type":"text","fontSize":18,"align":"left","baseline":"alphabetic"},
"encoding":{"x":{"datum":13.0,"type":"quantitative","axis":null},"y":{"datum":0.777,"type":"quantitative","axis":null},"text":{"value":"R²=0.86"}}},
{"data":{"name":"one"},"mark":{"type":"text","fontSize":23,"fontStyle":"italic","angle":270,"align":"left","baseline":"alphabetic"},
"encoding":{"x":{"datum":-7.48,"type":"quantitative","axis":null},"y":{"datum":0.427,"type":"quantitative","axis":null},"text":{"value":"E"}}},
{"data":{"name":"one"},"mark":{"type":"text","fontSize":23,"angle":270,"align":"left","baseline":"alphabetic"},
"encoding":{"x":{"datum":-7.48,"type":"quantitative","axis":null},"y":{"datum":0.4615,"type":"quantitative","axis":null},"text":{"value":"/ET"}}},
{"data":{"name":"one"},"mark":{"type":"rule","color":"#000000","strokeWidth":1},
"encoding":{"x":{"datum":-10.57,"type":"quantitative","axis":null},"y":{"datum":0.417,"type":"quantitative","axis":null},"y2":{"datum":1.017}}},
{"data":{"name":"one"},"mark":{"type":"text","fontSize":22,"fontStyle":"italic","align":"left","baseline":"alphabetic"},
"encoding":{"x":{"datum":22.28,"type":"quantitative","axis":null},"y":{"datum":-0.147,"type":"quantitative","axis":null},"text":{"value":"g"}}},
{"data":{"name":"one"},"mark":{"type":"text","fontSize":15,"align":"left","baseline":"alphabetic"},
"encoding":{"x":{"datum":24.23,"type":"quantitative","axis":null},"y":{"datum":-0.166,"type":"quantitative","axis":null},"text":{"value":"sc"}}},
{"data":{"name":"one"},"mark":{"type":"text","fontSize":22,"align":"left","baseline":"alphabetic"},
"encoding":{"x":{"datum":27.32,"type":"quantitative","axis":null},"y":{"datum":-0.147,"type":"quantitative","axis":null},"text":{"value":"(s m⁻¹)"}}}
]
},
{
"width":368,"height":403,
"resolve":{"axis":{"x":"independent","y":"independent"}},
"layer":[
{"data":{"name":"b"},"mark":{"type":"point","shape":"circle","size":28,"strokeWidth":1,"opacity":1},
"encoding":{
"x":{"field":"lai","type":"quantitative","scale":{"domain":[0,4],"nice":false,"zero":false},"axis":{"orient":"bottom","values":[0,1,2,3,4],"title":null}},
"y":{"field":"ratio","type":"quantitative","scale":{"domain":[0,1],"nice":false},"axis":{"orient":"left","values":[0,0.2,0.4,0.6,0.8,1],"labels":false,"title":null}},
"fill":{"field":"period","type":"nominal","scale":{"domain":["DOY157-198","DOY199-304"],"range":["#7f7f7f","rgba(255,255,255,0)"]},"legend":{"title":null,"orient":"none","legendX":635,"legendY":3}},
"stroke":{"field":"period","type":"nominal","scale":{"domain":["DOY157-198","DOY199-304"],"range":["#7f7f7f","#a6a6a6"]},"legend":{"title":null,"orient":"none","legendX":635,"legendY":3}}}},
{"data":{"name":"bFit"},"mark":{"type":"line","color":"#000000","strokeWidth":2.5,"interpolate":"monotone"},
"encoding":{
"x":{"field":"lai","type":"quantitative","axis":{"orient":"top","values":[0,1,2,3,4],"labels":false,"title":null}},
"y":{"field":"ratio","type":"quantitative","axis":{"orient":"right","values":[0,0.2,0.4,0.6,0.8,1],"labels":false,"title":null}}}},
{"data":{"name":"one"},"mark":{"type":"text","font":"Liberation Sans, Arial, sans-serif","fontWeight":"bold","fontSize":29,"align":"left","baseline":"alphabetic"},
"encoding":{"x":{"datum":0.337,"type":"quantitative","axis":null},"y":{"datum":0.933,"type":"quantitative","axis":null},"text":{"value":"(b)"}}},
{"data":{"name":"one"},"mark":{"type":"text","fontSize":18,"align":"left","baseline":"alphabetic"},
"encoding":{"x":{"datum":0.5,"type":"quantitative","axis":null},"y":{"datum":0.7,"type":"quantitative","axis":null},"text":{"value":"y=0.67e"}}},
{"data":{"name":"one"},"mark":{"type":"text","fontSize":14,"align":"left","baseline":"alphabetic"},
"encoding":{"x":{"datum":1.163,"type":"quantitative","axis":null},"y":{"datum":0.722,"type":"quantitative","axis":null},"text":{"value":"-0.801x"}}},
{"data":{"name":"one"},"mark":{"type":"text","fontSize":18,"align":"left","baseline":"alphabetic"},
"encoding":{"x":{"datum":0.522,"type":"quantitative","axis":null},"y":{"datum":0.633,"type":"quantitative","axis":null},"text":{"value":"R²=0.81"}}},
{"data":{"name":"one"},"mark":{"type":"text","fontSize":22,"align":"center","baseline":"alphabetic"},
"encoding":{"x":{"datum":1.99,"type":"quantitative","axis":null},"y":{"datum":-0.156,"type":"quantitative","axis":null},"text":{"value":"LAI (m² m⁻²)"}}}
]
}
]
}
